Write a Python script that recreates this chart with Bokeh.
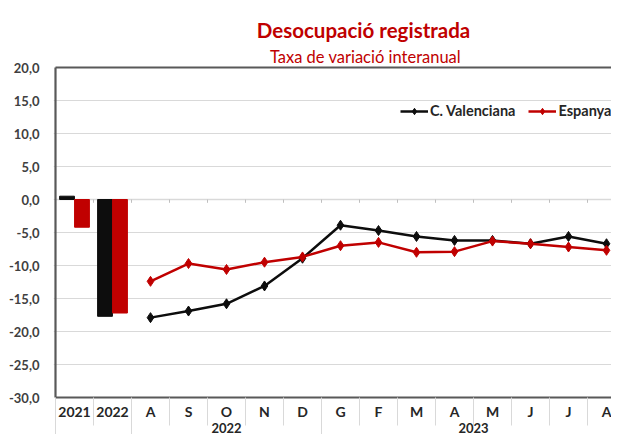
from bokeh.plotting import figure
from bokeh.models import Range1d, FixedTicker, Legend, LegendItem
from bokeh.core.properties import value
from bokeh.embed import file_html
from bokeh.resources import INLINE

# ---------------- data ----------------
annual_labels = ["2021", "2022"]
annual_cv = [0.5, -17.7]
annual_es = [-4.2, -17.2]

month_labels = ["A", "S", "O", "N", "D", "G", "F", "M", "A", "M", "J", "J", "A"]
monthly_cv = [-17.9, -16.9, -15.8, -13.1, -8.9, -3.9, -4.7, -5.6, -6.2, -6.2, -6.7, -5.6, -6.7]
monthly_es = [-12.4, -9.7, -10.6, -9.5, -8.7, -7.0, -6.5, -8.0, -7.9, -6.3, -6.7, -7.2, -7.7]

year_groups = ["2022", "2023"]
year_group_sizes = [5, 8]

y_ticks = [-30, -25, -20, -15, -10, -5, 0, 5, 10, 15, 20]

title_text = "Desocupació registrada"
subtitle_text = "Taxa de variació interanual"
series_names = ["C. Valenciana", "Espanya"]

# ---------------- style ----------------
BLACK = "#0d0d0d"
RED = "#c00000"
GRID = "#d9d9d9"
BORDER = "#595959"
FONT = "Lato"

W, H = 611, 434
left_px = 53           # frame left edge
cat_px = 38.0          # pixels per category
unit_px = 6.6          # pixels per y unit
x0_px = 2              # x=0 sits 2px right of frame edge
top_px = 67            # y=20 is 67px below frame top

x_start = -x0_px / cat_px
x_end = (W - left_px - x0_px) / cat_px
y_top = 20 + top_px / unit_px
y_bottom = 20 - (H - top_px) / unit_px

p = figure(width=W, height=H, output_backend="svg", toolbar_location=None,
           x_range=Range1d(x_start, x_end), y_range=Range1d(y_bottom, y_top),
           min_border_left=left_px, min_border_right=0, min_border_top=0,
           min_border_bottom=0)
p.outline_line_color = None
p.xaxis.visible = False
p.xgrid.visible = False
p.ygrid.ticker = FixedTicker(ticks=[t for t in y_ticks if -30 < t < 20])
p.ygrid.grid_line_color = GRID
p.ygrid.grid_line_width = 1

ax = p.yaxis[0]
ax.ticker = FixedTicker(ticks=y_ticks)
ax.major_label_overrides = {t: f"{t:.1f}".replace(".", ",") for t in y_ticks}
ax.axis_line_color = None
ax.major_tick_line_color = None
ax.minor_tick_line_color = None
ax.major_label_standoff = 8
ax.major_label_text_font = FONT
ax.major_label_text_font_style = "bold"
ax.major_label_text_font_size = "13px"
ax.major_label_text_color = "#404040"

n_cat = len(annual_labels) + len(month_labels)

# zero line with small tick marks
p.segment(x0=[0], x1=[n_cat], y0=[0], y1=[0], line_color=GRID, line_width=1.5)
p.segment(x0=list(range(1, n_cat)), x1=list(range(1, n_cat)),
          y0=[0] * (n_cat - 1), y1=[-0.5] * (n_cat - 1), line_color="#bfbfbf", line_width=1)

# bars
bx = [i + 0.5 for i in range(len(annual_labels))]
bw = 0.39
p.vbar(x=[v - 0.197 for v in bx], top=annual_cv, bottom=0, width=bw,
       fill_color=BLACK, line_color=BLACK)
p.vbar(x=[v + 0.197 for v in bx], top=annual_es, bottom=0, width=bw,
       fill_color=RED, line_color=RED)

# lines
mx = [len(annual_labels) + i + 0.5 for i in range(len(month_labels))]
l_cv = p.line(mx, monthly_cv, line_color=BLACK, line_width=2.5)
m_cv = p.scatter(mx, monthly_cv, marker="diamond", size=10, fill_color=BLACK, line_color=BLACK)
l_es = p.line(mx, monthly_es, line_color=RED, line_width=2.5)
m_es = p.scatter(mx, monthly_es, marker="diamond", size=10, fill_color=RED, line_color=RED)

# plot area border
p.segment(x0=[0, 0, 0], x1=[n_cat, 0, n_cat], y0=[20, -30, -30], y1=[20, 20, -30],
          line_color=BORDER, line_width=2.2)

# category separators
row1_bottom = -30 - 28 / unit_px
group_edges = [0, len(annual_labels)]
acc = len(annual_labels)
for s in year_group_sizes:
    acc += s
    group_edges.append(acc)
short = [k for k in range(n_cat + 1) if k not in group_edges]
p.segment(x0=short, x1=short, y0=[-30] * len(short), y1=[row1_bottom] * len(short),
          line_color=GRID, line_width=1)
p.segment(x0=group_edges, x1=group_edges, y0=[-30] * len(group_edges),
          y1=[y_bottom] * len(group_edges), line_color=GRID, line_width=1)

# category labels
all_labels = annual_labels + month_labels
p.text(x=[i + 0.5 for i in range(n_cat)], y=[-30 - 14 / unit_px] * n_cat, text=all_labels,
       text_font=value(FONT), text_font_style="bold", text_font_size="14px",
       text_color="#262626", text_align="center", text_baseline="middle")
gx = []
start = len(annual_labels)
for s in year_group_sizes:
    gx.append(start + s / 2)
    start += s
p.text(x=gx, y=[-30 - 30 / unit_px] * len(gx), text=year_groups,
       text_font=value(FONT), text_font_style="bold", text_font_size="13px",
       text_color="#262626", text_align="center", text_baseline="middle")

# titles
p.text(x=[(363 - 55) / cat_px], y=[20 + (67 - 29) / unit_px], text=[title_text],
       text_font=value(FONT), text_font_style="bold", text_font_size="20.5px",
       text_color=RED, text_align="center", text_baseline="middle")
p.text(x=[(365 - 55) / cat_px], y=[20 + (67 - 56) / unit_px], text=[subtitle_text],
       text_font=value(FONT), text_font_size="16.5px",
       text_color=RED, text_align="center", text_baseline="middle")

# legend
legend = Legend(items=[LegendItem(label=series_names[0], renderers=[l_cv, m_cv]),
                       LegendItem(label=series_names[1], renderers=[l_es, m_es])],
                orientation="horizontal", location=(347, 315),
                glyph_width=28, glyph_height=16, label_standoff=2, spacing=13,
                padding=0, margin=0, border_line_color=None, background_fill_alpha=0,
                label_text_font=FONT, label_text_font_style="bold",
                label_text_font_size="14.5px", label_text_color="#262626",
                label_height=16)
p.add_layout(legend, "center")

open("out.html", "w").write(file_html(p, INLINE))
